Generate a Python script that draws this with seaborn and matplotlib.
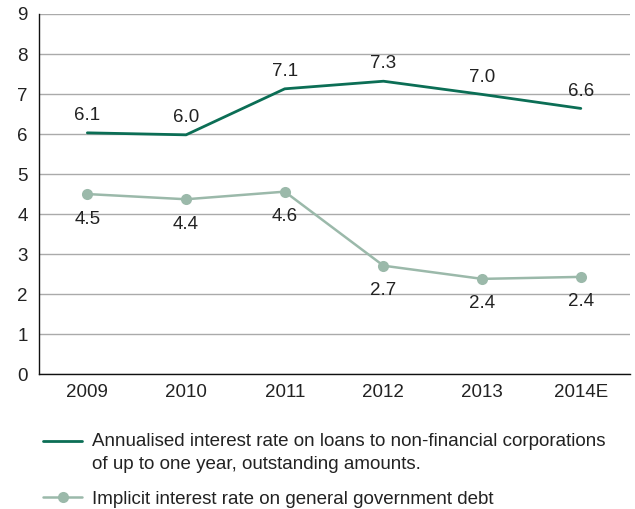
import numpy as np
import pandas as pd
import matplotlib
matplotlib.use("Agg")
import matplotlib.pyplot as plt
import seaborn as sns

years = ["2009", "2010", "2011", "2012", "2013", "2014E"]
loan_rate = [6.03, 5.98, 7.13, 7.32, 6.99, 6.64]
loan_labels = ["6.1", "6.0", "7.1", "7.3", "7.0", "6.6"]
debt_rate = [4.50, 4.37, 4.56, 2.71, 2.38, 2.43]
debt_labels = ["4.5", "4.4", "4.6", "2.7", "2.4", "2.4"]

loan_name = ("Annualised interest rate on loans to non-financial corporations\n"
             "of up to one year, outstanding amounts.")
debt_name = "Implicit interest rate on general government debt"

dark_green = "#0b6e55"
light_green = "#9bb9aa"
fs = 13.5

sns.set_theme(style="white")
plt.rcParams["font.family"] = ["Liberation Sans", "DejaVu Sans"]

df = pd.DataFrame({"year": years, "loan": loan_rate, "debt": debt_rate})

fig = plt.figure(figsize=(6.35, 5.09), dpi=100)
ax = fig.add_axes([0.0614, 0.265, 0.931, 0.7075])

sns.lineplot(data=df, x="year", y="loan", ax=ax, color=dark_green,
             linewidth=2.0, sort=False, label=loan_name)
sns.lineplot(data=df, x="year", y="debt", ax=ax, color=light_green,
             linewidth=1.8, marker="o", markersize=8, markeredgewidth=0,
             sort=False, label=debt_name)

for i, (v, t) in enumerate(zip(loan_rate, loan_labels)):
    ax.annotate(t, (i, v), xytext=(0, 12.5), textcoords="offset points",
                ha="center", va="center", fontsize=fs, color="#222222")
for i, (v, t) in enumerate(zip(debt_rate, debt_labels)):
    ax.annotate(t, (i, v), xytext=(0, -18), textcoords="offset points",
                ha="center", va="center", fontsize=fs, color="#222222")

ax.set_ylim(0, 9)
ax.set_xlim(-0.49, 5.5)
ax.set_yticks(range(0, 10))
ax.yaxis.grid(True, color="#aaaaaa", linewidth=1.0)
ax.set_axisbelow(True)
ax.set_xlabel("")
ax.set_ylabel("")
for s in ["top", "right"]:
    ax.spines[s].set_visible(False)
for s in ["left", "bottom"]:
    ax.spines[s].set_color("#111111")
    ax.spines[s].set_linewidth(1.0)
ax.tick_params(axis="both", length=0, labelsize=fs, colors="#222222")
ax.tick_params(axis="y", pad=8)
ax.tick_params(axis="x", pad=7)

handles, labels = ax.get_legend_handles_labels()
ax.get_legend().remove()
leg = fig.legend(handles, labels, loc="upper left", bbox_to_anchor=(0.068, 0.149),
                 frameon=False, fontsize=fs, handlelength=2.07, handletextpad=0.53,
                 labelspacing=0.95, borderpad=0, borderaxespad=0)
for t in leg.get_texts():
    t.set_color("#222222")
    t.set_linespacing(1.45)
# put the first handle level with the first text line
h0 = leg.legend_handles[0]
h0.set_ydata(np.asarray(h0.get_ydata()) + 8.3)

fig.savefig("out.png", dpi=100)
